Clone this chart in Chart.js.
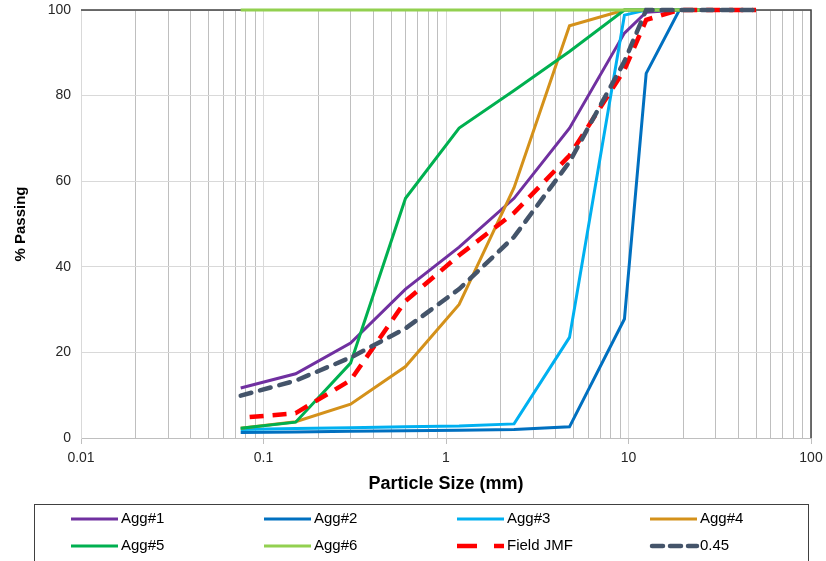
<!DOCTYPE html>
<html>
<head>
<meta charset="utf-8">
<script src="https://cdn.jsdelivr.net/npm/chart.js@4/dist/chart.umd.min.js"></script>
<style>
  html, body { margin: 0; padding: 0; background: #fff; }
  #wrap { width: 826px; height: 561px; }
</style>
</head>
<body>
<div id="wrap"><canvas id="gradation" width="826" height="561"></canvas></div>
<script>
// sieve sizes (mm) and % passing
const sieveSizes = [0.075, 0.15, 0.3, 0.6, 1.18, 2.36, 4.75, 9.5, 12.5, 19, 25, 37.5, 50];
const agg1 = [11.7, 15.0, 22.2, 34.8, 44.6, 56.0, 72.4, 94.6, 99.5, 100, 100, 100, 100];
const agg2 = [1.3, 1.4, 1.6, 1.7, 1.8, 2.0, 2.6, 27.8, 85.2, 100, 100, 100, 100];
const agg3 = [2.0, 2.2, 2.4, 2.6, 2.8, 3.3, 23.5, 98.8, 100, 100, 100, 100, 100];
const agg4 = [2.3, 3.8, 7.9, 16.7, 31.2, 58.5, 96.3, 100, 100, 100, 100, 100, 100];
const agg5 = [2.3, 3.7, 17.5, 56.0, 72.4, 81.2, 90.3, 100, 100, 100, 100, 100, 100];
const agg6 = [100, 100, 100, 100, 100, 100, 100, 100, 100, 100, 100, 100, 100];
const fieldJmf = [4.7, 5.8, 13.5, 32.0, 42.7, 52.6, 66.0, 86.0, 97.7, 100, 100, 100, 100];
const power045 = [9.9, 13.4, 18.8, 25.6, 34.8, 47.0, 64.5, 88.0, 100, 100, 100, 100, 100];

const seriesNames = ['Agg#1', 'Agg#2', 'Agg#3', 'Agg#4', 'Agg#5', 'Agg#6', 'Field JMF', '0.45'];
const seriesValues = [agg1, agg2, agg3, agg4, agg5, agg6, fieldJmf, power045];
const seriesColors = ['#7030A0', '#0070C0', '#00B0F0', '#D4911A', '#00B050', '#92D050', '#FF0000', '#44546A'];

const yTicks = [0, 20, 40, 60, 80, 100];
const xDecades = [0.01, 0.1, 1, 10, 100];

const FONT = "'Liberation Sans', Arial, sans-serif";

// log grid: 1..9 in each decade
const xGrid = [];
for (let d = 0; d < xDecades.length - 1; d++) {
  for (let m = 1; m <= 9; m++) xGrid.push(Number((m * xDecades[d]).toPrecision(3)));
}
xGrid.push(xDecades[xDecades.length - 1]);
const isDecade = v => xDecades.some(d => Math.abs(d - v) < d * 1e-6);

// let the layout padding alone decide where the plot sits
const noOverhang = s => { s.paddingTop = s.paddingBottom = s.paddingLeft = s.paddingRight = 0; };

const datasets = seriesNames.map((name, i) => {
  const ds = {
    label: name,
    data: sieveSizes.map((s, k) => ({ x: s, y: seriesValues[i][k] })),
    borderColor: seriesColors[i],
    backgroundColor: seriesColors[i],
    borderWidth: 3,
    pointRadius: 0,
    tension: 0,
    fill: false,
    clip: false,
    order: seriesNames.length - i   // later series on top, like the original
  };
  if (name === 'Field JMF') {
    ds.borderWidth = 4.5;
    ds.borderDash = [14, 9];
    ds.borderDashOffset = 14;
    ds.borderCapStyle = 'butt';
  }
  if (name === '0.45') {
    ds.borderWidth = 4.5;
    ds.borderDash = [11, 9];
    ds.borderCapStyle = 'round';
  }
  return ds;
});

const frame = {
  id: 'frame',
  beforeDatasetsDraw(chart) {
    const { ctx, chartArea: a } = chart;
    ctx.save();
    ctx.strokeStyle = '#404040';
    ctx.lineWidth = 1.5;
    ctx.beginPath();
    ctx.moveTo(a.left, a.top);
    ctx.lineTo(a.right, a.top);
    ctx.lineTo(a.right, a.bottom);
    ctx.stroke();
    ctx.restore();
  }
};

const boxLegend = {
  id: 'boxLegend',
  afterDraw(chart) {
    const ctx = chart.ctx;
    ctx.save();
    ctx.strokeStyle = '#404040';
    ctx.lineWidth = 1;
    ctx.strokeRect(34.5, 504.5, 774, 70);
    ctx.font = '15px ' + FONT;
    ctx.textBaseline = 'middle';
    ctx.fillStyle = '#000';
    chart.data.datasets.forEach((ds, i) => {
      const x0 = 71 + (i % 4) * 193;
      const y = 519 + Math.floor(i / 4) * 27;
      ctx.save();
      ctx.strokeStyle = ds.borderColor;
      ctx.lineWidth = ds.borderDash ? 4.5 : 3;
      ctx.lineCap = ds.borderCapStyle || 'butt';
      if (ds.label === 'Field JMF') ctx.setLineDash([20, 17]);
      else if (ds.borderDash) ctx.setLineDash([11, 7]);
      ctx.beginPath();
      ctx.moveTo(x0 + (ds.borderCapStyle === 'round' ? 2 : 0), y);
      ctx.lineTo(x0 + 47, y);
      ctx.stroke();
      ctx.restore();
      ctx.fillText(ds.label, x0 + 50, y);
    });
    ctx.restore();
  }
};

new Chart(document.getElementById('gradation'), {
  type: 'line',
  data: { datasets },
  options: {
    responsive: false,
    animation: false,
    layout: { padding: { top: 10, right: 15, left: 0, bottom: 65 } },
    plugins: {
      legend: { display: false },
      tooltip: { enabled: false }
    },
    scales: {
      x: {
        type: 'logarithmic',
        min: xDecades[0],
        max: xDecades[xDecades.length - 1],
        afterBuildTicks: s => { s.ticks = xGrid.map(v => ({ value: v, major: false })); },
        afterFit: s => { s.height = 58; noOverhang(s); },
        ticks: {
          autoSkip: false,
          maxRotation: 0,
          padding: 6,
          color: '#262626',
          font: { family: FONT, size: 14 },
          callback: v => (isDecade(v) ? String(v) : '')
        },
        grid: {
          color: c => (c.tick && isDecade(c.tick.value) ? '#d9d9d9' : '#bfbfbf'),
          tickColor: c => (c.tick && isDecade(c.tick.value) ? '#bfbfbf' : 'rgba(0,0,0,0)'),
          tickLength: 6,
          lineWidth: 1
        },
        border: { color: '#bfbfbf' },
        title: {
          display: true,
          text: 'Particle Size (mm)',
          color: '#000',
          font: { family: FONT, size: 18, weight: 'bold' },
          padding: { top: 2, bottom: 1 }
        }
      },
      y: {
        min: 0,
        max: 100,
        afterBuildTicks: s => { s.ticks = yTicks.map(v => ({ value: v })); },
        afterFit: s => { s.width = 81; noOverhang(s); },
        ticks: {
          padding: 10,
          color: '#262626',
          font: { family: FONT, size: 14 }
        },
        grid: { color: '#d9d9d9', drawTicks: false },
        border: { color: '#d9d9d9' },
        title: {
          display: true,
          text: '% Passing',
          color: '#000',
          font: { family: FONT, size: 15, weight: 'bold' },
          padding: { top: 12, bottom: 10 }
        }
      }
    }
  },
  plugins: [frame, boxLegend]
});
</script>
</body>
</html>
